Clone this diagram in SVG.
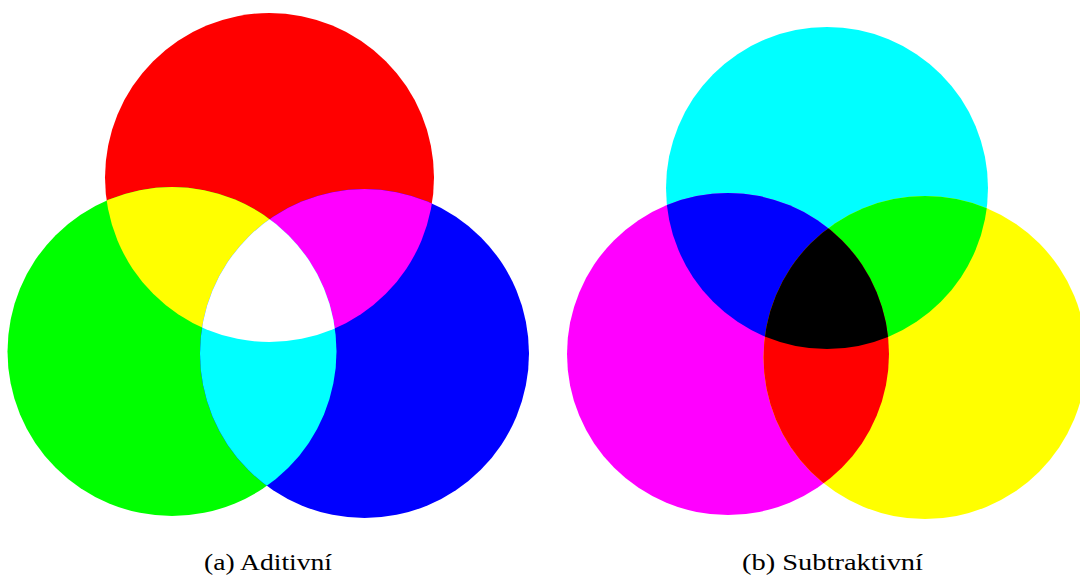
<svg xmlns="http://www.w3.org/2000/svg" width="1080" height="577" viewBox="0 0 1080 577">
<style>
.cap{font-family:"Liberation Serif","DejaVu Serif",serif;font-size:23px;fill:#000;text-anchor:middle}
</style>
<defs>
<circle id="cR" cx="269.5" cy="177.5" r="164.5"/>
<circle id="cG" cx="172" cy="351.5" r="164.5"/>
<circle id="cB" cx="364.5" cy="353.5" r="164.5"/>
<circle id="cC" cx="827" cy="188" r="161"/>
<circle id="cM" cx="728" cy="354" r="161"/>
<circle id="cY" cx="925" cy="357.5" r="161.5"/>
<clipPath id="clG"><use href="#cG"/></clipPath>
<clipPath id="clB"><use href="#cB"/></clipPath>
<clipPath id="clM"><use href="#cM"/></clipPath>
<clipPath id="clY"><use href="#cY"/></clipPath>
</defs>
<rect width="1080" height="577" fill="#fff"/>
<g id="additive">
<use href="#cR" fill="#ff0000"/>
<use href="#cG" fill="#00ff00"/>
<use href="#cB" fill="#0000ff"/>
<use href="#cR" fill="#ffff00" clip-path="url(#clG)"/>
<use href="#cR" fill="#ff00ff" clip-path="url(#clB)"/>
<use href="#cG" fill="#00ffff" clip-path="url(#clB)"/>
<g clip-path="url(#clB)"><use href="#cR" fill="#ffffff" clip-path="url(#clG)"/></g>
</g>
<g id="subtractive">
<use href="#cC" fill="#00ffff"/>
<use href="#cM" fill="#ff00ff"/>
<use href="#cY" fill="#ffff00"/>
<use href="#cC" fill="#0000ff" clip-path="url(#clM)"/>
<use href="#cC" fill="#00ff00" clip-path="url(#clY)"/>
<use href="#cM" fill="#ff0000" clip-path="url(#clY)"/>
<g clip-path="url(#clY)"><use href="#cC" fill="#000000" clip-path="url(#clM)"/></g>
</g>
<g id="captions">
<text class="cap" x="268" y="570" textLength="128" lengthAdjust="spacingAndGlyphs">(a) Aditivní</text>
<text class="cap" x="832.5" y="570" textLength="181" lengthAdjust="spacingAndGlyphs">(b) Subtraktivní</text>
</g>
</svg>
